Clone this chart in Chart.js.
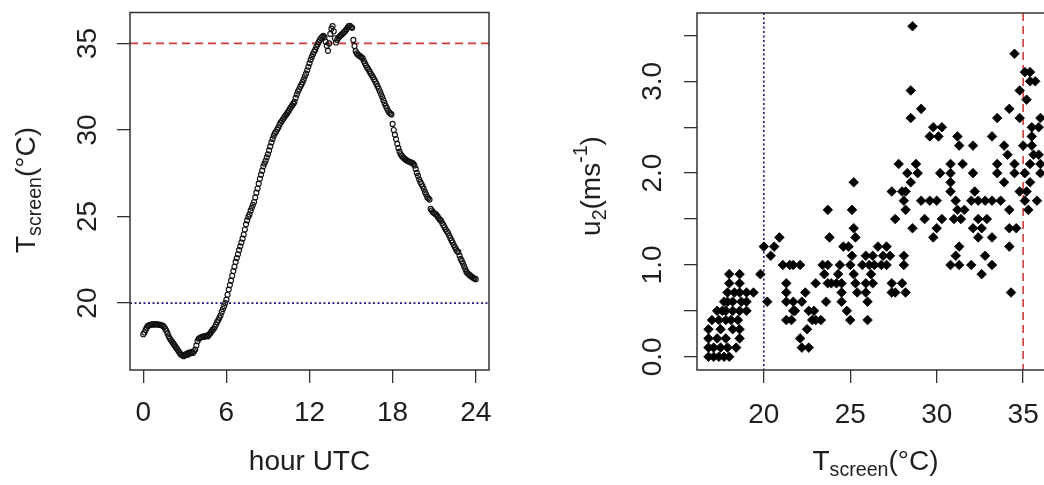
<!DOCTYPE html>
<html lang="en">
<head>
    <meta charset="UTF-8">
    <title>Screen temperature and wind</title>
    <style>
        html, body {
            margin: 0;
            padding: 0;
            background: #fff;
            overflow: hidden;
            width: 1044px;
            height: 485px;
        }
        canvas {
            position: absolute;
            top: 0;
        }
        #temp-chart { left: 0; }
        #wind-chart { left: 520px; }
    </style>
</head>
<body>
    <canvas id="temp-chart" width="520" height="485"></canvas>
    <canvas id="wind-chart" width="600" height="485"></canvas>
    <script src="https://cdn.jsdelivr.net/npm/chart.js"></script>
    <script>
        // screen temperature every 5 minutes, 00:00 .. 24:00 UTC
        const tempC = [
            18.2, 18.3, 18.45, 18.58, 18.68, 18.72, 18.75, 18.76, 18.78, 18.76, 18.78, 18.77,
            18.78, 18.76, 18.75, 18.74, 18.72, 18.68, 18.62, 18.52, 18.4, 18.25, 18.08, 17.95,
            17.85, 17.76, 17.66, 17.57, 17.47, 17.37, 17.27, 17.17, 17.08, 17.02, 16.97, 16.93,
            16.98, 17.05, 17.0, 17.12, 17.08, 17.15, 17.18, 17.12, 17.22, 17.32, 17.55, 17.8,
            17.94, 17.98, 18.02, 18.04, 18.08, 18.05, 18.1, 18.12, 18.08, 18.18, 18.25, 18.35,
            18.45, 18.52, 18.62, 18.76, 18.9, 19.02, 19.16, 19.3, 19.5, 19.66, 19.82, 20.0,
            20.2, 20.48, 20.78, 21.04, 21.3, 21.58, 21.85, 22.1, 22.38, 22.6, 22.82, 23.06,
            23.28, 23.5, 23.72, 23.96, 24.25, 24.55, 24.78, 24.98, 25.12, 25.34, 25.5, 25.68,
            25.84, 26.1, 26.38, 26.62, 26.9, 27.18, 27.42, 27.65, 27.9, 28.06, 28.22, 28.42,
            28.6, 28.82, 29.05, 29.28, 29.48, 29.66, 29.8, 29.9, 30.02, 30.14, 30.3, 30.42,
            30.52, 30.62, 30.72, 30.82, 30.9, 31.0, 31.1, 31.22, 31.32, 31.42, 31.52, 31.62,
            31.85, 32.05, 32.22, 32.35, 32.5, 32.62, 32.76, 32.92, 33.1, 33.25, 33.45, 33.65,
            33.85, 34.05, 34.22, 34.38, 34.52, 34.64, 34.8, 34.95, 35.08, 35.2, 35.3, 35.38,
            35.44, 35.35, 35.1, 34.86, 34.57, 35.0, 35.55, 35.85, 36.0, 35.7, 35.3, 35.05,
            35.2, 35.32, 35.4, 35.45, 35.52, 35.58, 35.65, 35.72, 35.8, 35.92, 36.0, 36.02,
            35.95, 35.9, 35.2, 34.85, 34.55, 34.42, 34.35, 34.3, 34.25, 34.2, 34.15, 34.0,
            33.85, 33.72, 33.6, 33.5, 33.38, 33.26, 33.16, 33.05, 32.92, 32.8, 32.66, 32.52,
            32.38, 32.22, 32.06, 31.9, 31.72, 31.56, 31.4, 31.26, 31.12, 31.02, 30.95, 30.9,
            30.35, 30.0, 29.72, 29.48, 29.2, 28.95, 28.75, 28.6, 28.5, 28.42, 28.36, 28.3,
            28.25, 28.22, 28.18, 28.15, 28.12, 28.1, 28.05, 27.95, 27.75, 27.52, 27.35, 27.15,
            27.0, 26.88, 26.75, 26.6, 26.42, 26.28, 26.12, 26.05, 25.98, 25.44, 25.35, 25.25,
            25.2, 25.15, 25.1, 25.0, 24.9, 24.82, 24.75, 24.62, 24.5, 24.38, 24.25, 24.15,
            24.05, 23.9, 23.76, 23.62, 23.5, 23.35, 23.22, 23.1, 23.0, 22.95, 22.75, 22.55,
            22.42, 22.28, 22.12, 21.95, 21.8, 21.72, 21.66, 21.6, 21.55, 21.5, 21.45, 21.42,
            21.38
        ];

        // wind speed classes (m/s) and the screen temperatures seen at each
        const windLevels = [0.0, 0.1, 0.2, 0.3, 0.4, 0.5, 0.6, 0.7, 0.8, 0.9,
                            1.0, 1.1, 1.2, 1.3, 1.4, 1.5, 1.6, 1.7, 1.8, 1.9,
                            2.0, 2.1, 2.2, 2.3, 2.4, 2.5, 2.6, 2.7, 2.8, 2.9,
                            3.0, 3.1, 3.3, 3.6];
        const tempAtLevel = [
            [16.8, 17.1, 17.4, 17.7, 18.0],
            [16.8, 17.1, 17.5, 17.9, 18.4, 22.2, 22.6],
            [16.8, 17.3, 17.8, 18.6, 22.1],
            [16.8, 17.5, 18.2, 18.6, 22.5],
            [17.0, 17.4, 17.8, 18.1, 18.5, 21.3, 21.6, 22.8, 23.0, 23.3, 25.0, 26.0],
            [17.3, 17.6, 17.8, 18.2, 18.6, 19.0, 21.7, 21.8, 22.6, 22.9, 24.8],
            [17.7, 17.9, 18.2, 18.7, 19.0, 20.2, 21.3, 21.7, 22.2, 23.6, 24.5, 26.0],
            [17.9, 18.3, 18.6, 19.0, 19.4, 21.3, 22.4, 24.5, 25.4, 25.9, 27.4, 27.6, 28.2, 34.3],
            [18.0, 18.6, 21.3, 23.0, 23.7, 23.9, 24.2, 24.5, 25.3, 25.9, 26.3, 27.4, 28.0],
            [18.0, 18.6, 19.8, 23.5, 24.3, 25.2, 26.2, 32.6],
            [21.1, 21.5, 21.7, 22.1, 23.4, 23.7, 24.4, 25.0, 25.7, 26.1, 26.4, 26.8, 27.1, 28.1, 30.8, 31.3, 32.0, 33.2],
            [20.4, 25.1, 25.9, 26.3, 26.9, 27.3, 28.1, 31.1, 32.8],
            [20.0, 20.6, 24.6, 24.9, 26.6, 27.1, 31.3, 34.2],
            [20.9, 23.8, 25.3, 29.8, 32.4, 33.2],
            [25.2, 28.6, 30.0, 32.1, 32.6, 34.2, 34.6],
            [27.6, 29.3, 30.3, 31.0, 31.4, 32.4, 32.9],
            [23.7, 25.1, 28.2, 31.2, 31.6, 34.2, 35.3],
            [28.1, 29.1, 29.6, 30.0, 31.1, 32.0, 32.4, 32.8, 33.2, 33.7, 35.1, 35.8],
            [27.4, 28.0, 28.2, 30.8, 32.2, 34.8, 35.2],
            [25.2, 28.5, 30.8, 33.9, 35.4],
            [28.3, 28.9, 30.2, 30.8, 32.1, 33.5, 34.5, 35.1, 36.0],
            [27.8, 28.8, 30.8, 31.5, 33.5, 34.5, 35.4, 36.0],
            [34.1, 35.6, 35.9],
            [31.3, 32.1, 33.9, 35.0, 35.5],
            [29.6, 30.1, 31.2, 33.2, 35.5],
            [29.8, 30.3, 35.5, 35.9],
            [28.5, 33.5, 34.8, 36.0],
            [29.1, 34.2],
            [35.2],
            [28.5, 34.8],
            [35.4, 35.7],
            [35.1, 35.4],
            [34.5],
            [28.6]
        ];

        const hourTicks = [0, 6, 12, 18, 24];
        const tempTicks = [20, 25, 30, 35];
        const windTicks = [0, 0.5, 1, 1.5, 2, 2.5, 3, 3.5];
        const windTickLabels = ['0.0', '', '1.0', '', '2.0', '', '3.0', ''];
        const tempLimits = [20, 35];   // dotted blue / dashed red

        const FONT = "'Liberation Sans', Arial, sans-serif";
        const INK = '#1e1e1e';

        function drawParts(ctx, parts, x, y, rotate) {
            ctx.save();
            ctx.translate(x, y);
            if (rotate) ctx.rotate(-Math.PI / 2);
            ctx.textAlign = 'left';
            ctx.textBaseline = 'alphabetic';
            ctx.fillStyle = INK;
            let total = 0;
            parts.forEach(p => {
                ctx.font = p.size + 'px ' + FONT;
                p.w = ctx.measureText(p.text).width;
                total += p.w;
            });
            let cx = -total / 2;
            parts.forEach(p => {
                ctx.font = p.size + 'px ' + FONT;
                ctx.fillText(p.text, cx, p.dy || 0);
                cx += p.w;
            });
            ctx.restore();
        }

        // R-style frame: box, tick labels, axis titles, reference lines
        function rFrame(cfg) {
            return {
                id: 'rFrame',
                beforeDatasetsDraw(chart) {
                    const { ctx, chartArea: a, scales } = chart;
                    ctx.save();
                    ctx.beginPath();
                    ctx.rect(a.left, a.top, a.right - a.left, a.bottom - a.top);
                    ctx.clip();
                    cfg.lines.forEach(l => {
                        ctx.strokeStyle = l.color;
                        ctx.lineWidth = l.width;
                        ctx.setLineDash(l.dash);
                        ctx.beginPath();
                        if (l.axis === 'y') {
                            const py = scales.y.getPixelForValue(l.value);
                            ctx.moveTo(a.left, py);
                            ctx.lineTo(a.right, py);
                        } else {
                            const px = scales.x.getPixelForValue(l.value);
                            ctx.moveTo(px, a.top);
                            ctx.lineTo(px, a.bottom);
                        }
                        ctx.stroke();
                    });
                    ctx.restore();
                },
                afterDraw(chart) {
                    const { ctx, chartArea: a, scales } = chart;
                    ctx.save();
                    ctx.strokeStyle = '#333';
                    ctx.lineWidth = 1.5;
                    ctx.strokeRect(a.left, a.top, a.right - a.left, a.bottom - a.top);

                    ctx.fillStyle = INK;
                    ctx.font = '28px ' + FONT;
                    ctx.textAlign = 'center';
                    ctx.textBaseline = 'middle';
                    cfg.xTicks.forEach((v, i) => {
                        const label = cfg.xLabels[i];
                        if (label) ctx.fillText(label, scales.x.getPixelForValue(v), cfg.xLabelY);
                    });
                    cfg.yTicks.forEach((v, i) => {
                        const label = cfg.yLabels[i];
                        if (!label) return;
                        ctx.save();
                        ctx.translate(cfg.yLabelX, scales.y.getPixelForValue(v));
                        ctx.rotate(-Math.PI / 2);
                        ctx.fillText(label, 0, 0);
                        ctx.restore();
                    });
                    ctx.restore();

                    const midX = (a.left + a.right) / 2;
                    drawParts(ctx, cfg.xTitle, midX, cfg.xTitleY, false);
                    drawParts(ctx, cfg.yTitle, cfg.yTitleX, cfg.yTitleY, true);
                }
            };
        }

        function rAxis(min, max, ticks, size, isX) {
            return {
                type: 'linear',
                min: min,
                max: max,
                afterBuildTicks: s => { s.ticks = ticks.map(v => ({ value: v })); },
                afterFit: s => { if (isX) s.height = size; else s.width = size; },
                ticks: { display: false },
                border: { display: false },
                grid: {
                    drawOnChartArea: false,
                    drawTicks: true,
                    tickLength: 13,
                    color: '#333',
                    lineWidth: 1.3
                }
            };
        }

        const redDash = { color: '#cd3b3b', width: 1.6, dash: [8, 5] };
        const blueDot = { color: '#1a1a80', width: 1.6, dash: [2, 2.5] };

        const tempPoints = tempC.map((t, i) => ({ x: i * 5 / 60, y: t }));

        new Chart(document.getElementById('temp-chart'), {
            type: 'scatter',
            data: {
                datasets: [{
                    data: tempPoints,
                    pointStyle: 'circle',
                    pointRadius: 2.5,
                    borderWidth: 1.15,
                    borderColor: '#111',
                    backgroundColor: 'rgba(0,0,0,0)'
                }]
            },
            options: {
                responsive: false,
                animation: false,
                events: [],
                layout: { padding: { left: 0, right: 31, top: 12.5, bottom: 0 } },
                plugins: { legend: { display: false }, tooltip: { enabled: false } },
                scales: {
                    x: rAxis(-0.96, 24.96, hourTicks, 115, true),
                    y: rAxis(16.135, 36.785, tempTicks, 130, false)
                }
            },
            plugins: [rFrame({
                lines: [
                    Object.assign({ axis: 'y', value: tempLimits[0] }, blueDot),
                    Object.assign({ axis: 'y', value: tempLimits[1] }, redDash)
                ],
                xTicks: hourTicks,
                xLabels: hourTicks.map(String),
                xLabelY: 413,
                yTicks: tempTicks,
                yLabels: tempTicks.map(String),
                yLabelX: 88.5,
                xTitle: [{ text: 'hour UTC', size: 28 }],
                xTitleY: 470,
                yTitle: [
                    { text: 'T', size: 28 },
                    { text: 'screen', size: 19.6, dy: 6 },
                    { text: '(\u00B0C)', size: 28 }
                ],
                yTitleX: 35,
                yTitleY: 190
            })]
        });

        const windPoints = [];
        windLevels.forEach((u, i) => {
            tempAtLevel[i].forEach(t => windPoints.push({ x: t, y: u }));
        });

        new Chart(document.getElementById('wind-chart'), {
            type: 'scatter',
            data: {
                datasets: [{
                    data: windPoints,
                    pointStyle: 'rectRot',
                    pointRadius: 4.8,
                    borderWidth: 0.8,
                    borderColor: '#000',
                    backgroundColor: '#000'
                }]
            },
            options: {
                responsive: false,
                animation: false,
                events: [],
                layout: { padding: { left: 0, right: 66, top: 13, bottom: 0 } },
                plugins: { legend: { display: false }, tooltip: { enabled: false } },
                scales: {
                    x: rAxis(16.135, 36.785, tempTicks, 115, true),
                    y: rAxis(-0.144, 3.744, windTicks, 177, false)
                }
            },
            plugins: [rFrame({
                lines: [
                    Object.assign({ axis: 'x', value: tempLimits[0] }, blueDot),
                    Object.assign({ axis: 'x', value: tempLimits[1] }, redDash)
                ],
                xTicks: tempTicks,
                xLabels: tempTicks.map(String),
                xLabelY: 415,
                yTicks: windTicks,
                yLabels: windTickLabels,
                yLabelX: 133,
                xTitle: [
                    { text: 'T', size: 28 },
                    { text: 'screen', size: 19.6, dy: 6 },
                    { text: '(\u00B0C)', size: 28 }
                ],
                xTitleY: 470,
                yTitle: [
                    { text: 'u', size: 28 },
                    { text: '2', size: 19.6, dy: 6 },
                    { text: '(ms', size: 28 },
                    { text: '-1', size: 19.6, dy: -13 },
                    { text: ')', size: 28 }
                ],
                yTitleX: 80,
                yTitleY: 186
            })]
        });
    </script>
</body>
</html>
